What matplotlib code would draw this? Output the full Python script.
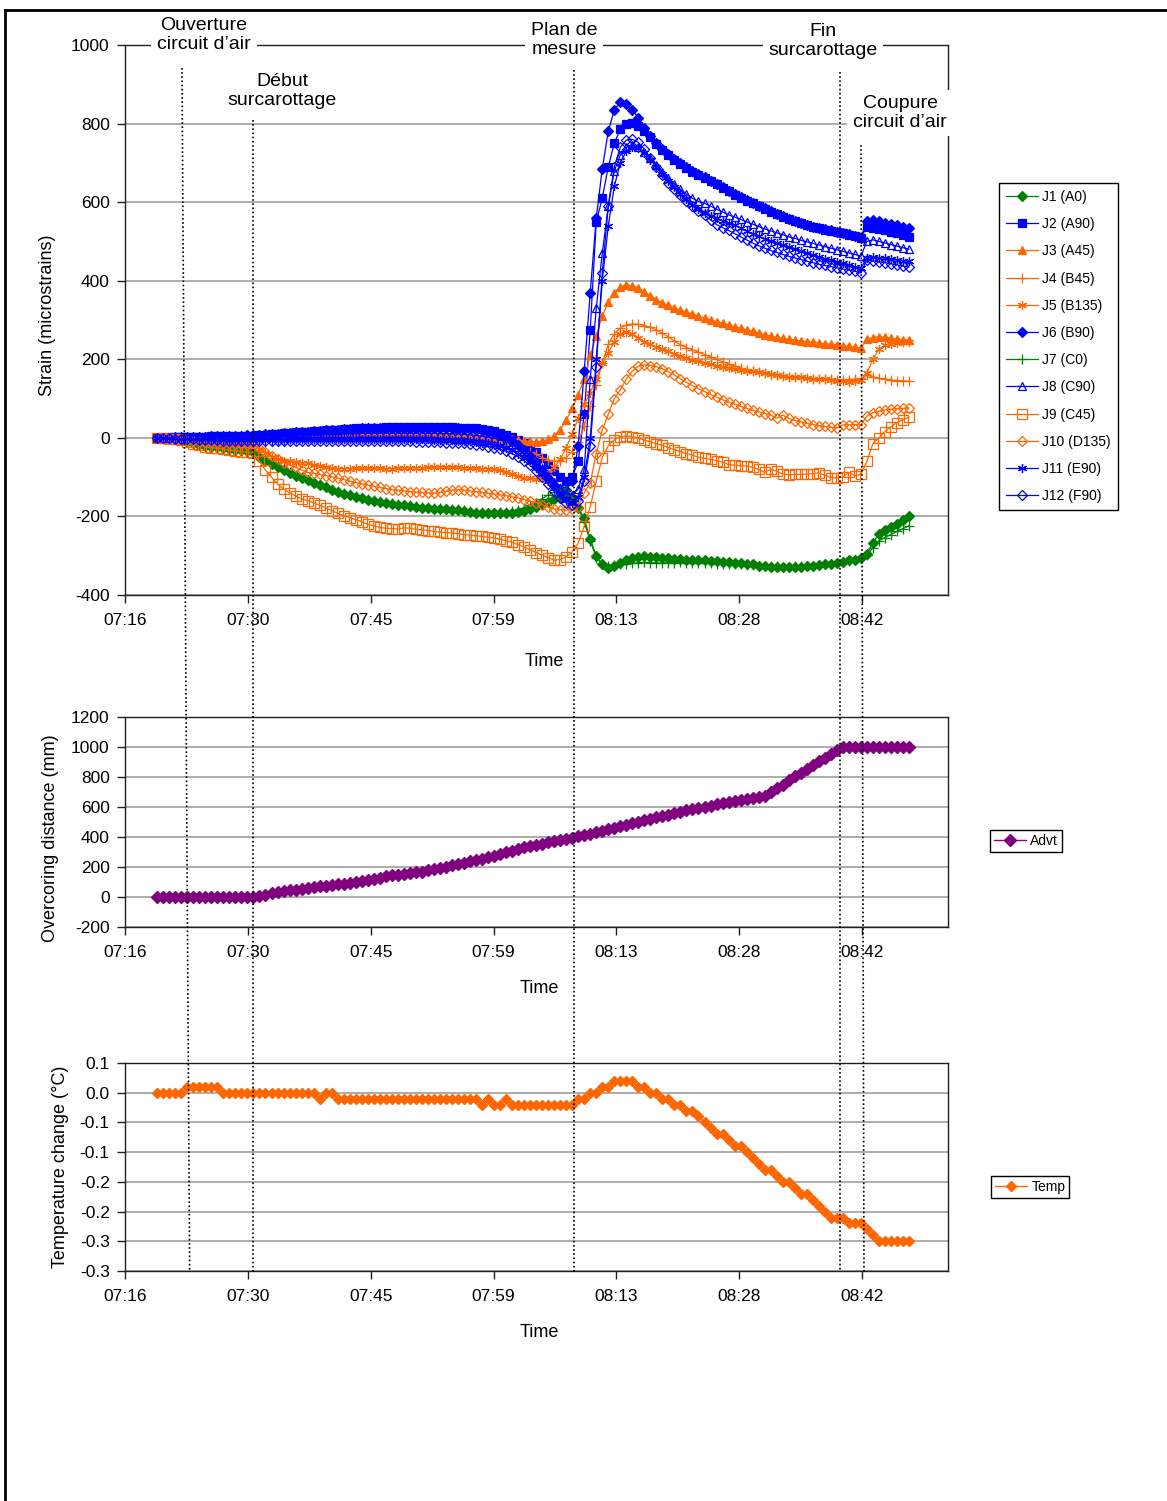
import numpy as np
import matplotlib
matplotlib.use("Agg")
import matplotlib.pyplot as plt
from matplotlib.lines import Line2D

plt.rcParams['font.family'] = ['Liberation Sans', 'DejaVu Sans']
plt.rcParams['axes.unicode_minus'] = False

W, H, DPI = 1167, 1501, 100

# ---------------- data ----------------
# sampling clock, minutes after midnight
t_start = 440.1
t_step = 0.705

J1 = [0, 0, -2, -3, -5,
      -10, -14, -17, -20, -22, -24, -26, -28, -30, -32, -34,
      -36,
      -48, -58, -66, -74, -82, -90, -96, -102, -108,
      -114, -120, -126, -132, -138, -142, -146, -150, -154, -157,
      -160, -163, -166, -168, -170, -172, -174, -176, -178, -179,
      -180, -181, -182, -183, -184, -186, -188, -190, -191, -192,
      -192, -192, -192, -191, -189, -186, -181, -176, -168, -162,
      -156, -150, -149, -158, -178,
      -205, -258, -300, -322, -330, -326, -318, -312, -306, -302,
      -300, -302, -304, -305, -306, -308, -309, -310, -311, -311,
      -312, -313, -314, -315, -316, -318, -319, -320, -322, -325,
      -327, -328, -328, -329, -329, -328, -328, -327, -326, -324,
      -322, -320, -318, -316, -312, -310, -306,
      -295, -268, -244, -235, -228, -220, -210, -200]
J7 = [0, 0, -1, -3, -5,
      -9, -13, -16, -19, -21, -23, -25, -27, -29, -31, -33,
      -35,
      -46, -56, -64, -72, -80, -87, -94, -100, -106,
      -112, -118, -124, -130, -135, -140, -144, -148, -152, -155,
      -158, -161, -164, -166, -168, -170, -172, -174, -176, -177,
      -178, -179, -180, -181, -182, -184, -186, -188, -189, -190,
      -190, -189, -188, -186, -183, -178, -172, -165, -155, -145,
      -138, -128, -132, -148, -178,
      -215, -262, -305, -320, -326, -323, -321, -320, -319, -318,
      -317, -318, -318, -319, -318, -318, -317, -318, -318, -318,
      -319, -319, -320, -320, -321, -322, -322, -323, -324, -325,
      -326, -327, -327, -328, -328, -327, -327, -326, -325, -324,
      -322, -320, -318, -316, -314, -311, -307,
      -298, -280, -262, -254, -246, -238, -231, -224]
J3 = [0, 0, 1, 2, 2,
      3, 3, 4, 4, 5, 5, 5, 6, 6, 6, 6,
      6,
      7, 8, 8, 9, 9, 10, 10, 10, 10,
      10, 10, 11, 11, 11, 11, 12, 12, 12, 12,
      12, 12, 12, 12, 12, 12, 11, 11, 11, 10,
      10, 10, 9, 9, 8, 8, 7, 6, 5, 4,
      3, 1, -1, -3, -5, -7, -9, -10, -8, -4,
      5, 20, 45, 75, 110,
      150, 210, 260, 310, 345, 370, 385, 389, 387, 382,
      372, 362, 352, 344, 337, 331, 325, 320, 315, 310,
      305, 300, 296, 292, 288, 283, 279, 275, 271, 267,
      263, 259, 256, 253, 251, 249, 247, 245, 244, 242,
      240, 238, 237, 235, 233, 231, 229,
      252, 255, 258, 256, 254, 252, 250, 249]
J4 = [0, 0, 0, -1, -1,
      -2, -3, -3, -4, -4, -5, -5, -6, -6, -6, -7,
      -7,
      -8, -8, -8, -8, -7, -7, -6, -6, -5,
      -5, -4, -4, -3, -3, -2, -2, -2, -2, -2,
      -2, -2, -2, -3, -3, -3, -3, -4, -4, -4,
      -4, -5, -5, -5, -6, -6, -7, -8, -9, -10,
      -12, -14, -17, -20, -25, -30, -36, -42, -50, -56,
      -60, -58, -50, -35, -10,
      30, 80, 135, 190, 238, 265, 280, 287, 290, 289,
      286, 281, 275, 266, 257, 246, 237, 230, 224, 218,
      212, 206, 200, 194, 188, 183, 178, 174, 170, 167,
      164, 161, 159, 157, 155, 154, 153, 152, 151, 150,
      149, 149, 148, 148, 148, 149, 150,
      160, 155, 152, 150, 148, 146, 145, 144]
J5 = [0, 0, -1, -2, -3,
      -5, -6, -8, -9, -10, -11, -12, -13, -14, -15, -16,
      -18,
      -28, -38, -48, -55, -58, -60, -62, -63, -64,
      -68, -72, -75, -77, -78, -78, -78, -77, -77, -77,
      -77, -77, -78, -78, -77, -77, -76, -76, -76, -75,
      -75, -74, -74, -75, -75, -76, -77, -77, -78, -78,
      -80, -83, -87, -92, -97, -101, -103, -104, -102, -90,
      -75, -55, -25, 10, 50,
      85, 115, 150, 190, 216, 245, 265, 270, 265, 255,
      245, 238, 232, 226, 220, 214, 208, 203, 199, 195,
      191, 187, 184, 181, 178, 175, 173, 171, 169, 167,
      165, 163, 160, 158, 156, 155, 154, 152, 151, 150,
      149, 148, 146, 145, 143, 145, 147,
      165, 200, 226, 236, 240, 242, 244, 245]
J9 = [0, 0, -2, -4, -6,
      -11, -15, -19, -22, -25, -27, -29, -31, -33, -35, -37,
      -39,
      -60, -82, -100, -118, -130, -140, -148, -155, -160,
      -165, -172, -178, -185, -192, -198, -203, -208, -213, -220,
      -224, -228, -230, -231, -232, -229, -230, -233, -234, -236,
      -238, -240, -241, -242, -244, -246, -247, -249, -251, -253,
      -255, -258, -262, -266, -272, -278, -285, -292, -298, -305,
      -311, -310, -303, -290, -268,
      -225, -175, -110, -50, -20, -5, 3, 5, 3, 0,
      -6, -10, -15, -19, -25, -30, -35, -40, -44, -49,
      -52, -55, -58, -62, -68, -70, -71, -72, -75, -80,
      -88, -80, -85, -92, -94, -93, -93, -92, -91, -89,
      -95, -101, -102, -100, -88, -96, -93,
      -60, -15, 0, 16, 28, 39, 46, 53]
J10 = [0, 0, -1, -2, -4,
       -6, -8, -9, -10, -11, -12, -13, -14, -15, -16, -17,
       -18,
       -25, -35, -45, -55, -63, -69, -75, -82, -88,
       -90, -93, -96, -99, -102, -106, -110, -114, -117, -120,
       -123, -126, -129, -132, -133, -135, -137, -138, -139, -140,
       -141, -139, -136, -133, -132, -133, -135, -137, -139, -141,
       -143, -145, -147, -150, -153, -157, -161, -165, -170, -176,
       -181, -183, -184, -182, -175,
       -140, -115, -40, 20, 60, 100, 122, 150, 170, 182,
       186, 184, 181, 176, 168, 160, 150, 141, 133, 125,
       118, 111, 104, 97, 91, 86, 80, 75, 70, 66,
       62, 58, 50, 58, 50, 44, 41, 37, 34, 31,
       29, 27, 25, 33, 33, 34, 33,
       55, 64, 68, 71, 73, 74, 75, 76]
J2 = [0, 0, 1, 1, 2,
      2, 3, 3, 3, 4, 4, 4, 5, 5, 5, 6,
      6,
      7, 8, 10, 11, 12, 13, 14, 15, 16,
      17, 18, 19, 20, 21, 22, 23, 24, 25, 25,
      26, 26, 27, 27, 27, 27, 27, 27, 27, 27,
      27, 27, 27, 27, 26, 26, 25, 24, 22, 20,
      17, 13, 8, 2, -5, -14, -24, -36, -50, -66,
      -85, -100, -110, -100, -60,
      60, 275, 550, 610, 690, 750, 785, 800, 801, 795,
      780, 765, 748, 733, 720, 708, 697, 687, 678, 670,
      662, 655, 645, 637, 628, 619, 611, 604, 597, 590,
      583, 576, 569, 563, 557, 551, 546, 541, 537, 533,
      530, 527, 524, 521, 517, 513, 509,
      538, 535, 532, 529, 525, 521, 516, 512]
J6 = [0, 0, 0, 1, 1,
      2, 2, 3, 3, 4, 4, 5, 5, 6, 6, 7,
      7,
      8, 9, 10, 11, 12, 13, 14, 15, 16,
      17, 18, 19, 20, 21, 22, 23, 23, 24, 24,
      25, 25, 25, 26, 26, 26, 26, 26, 26, 26,
      26, 25, 25, 25, 24, 23, 22, 21, 19, 16,
      12, 7, 0, -8, -18, -30, -45, -62, -82, -102,
      -120, -130, -132, -110, -20,
      170, 370, 560, 685, 780, 835, 854, 850, 835, 815,
      790, 768, 750, 735, 722, 710, 699, 689, 680, 671,
      663, 655, 646, 638, 629, 620, 612, 605, 598, 591,
      584, 577, 570, 564, 558, 552, 547, 542, 538, 534,
      531, 528, 525, 522, 518, 514, 510,
      553, 555, 551, 548, 544, 541, 537, 534]
J8 = [0, 0, 0, 0, 1,
      1, 1, 2, 2, 2, 3, 3, 3, 4, 4, 4,
      4,
      5, 5, 6, 6, 7, 7, 8, 8, 9,
      9, 10, 10, 10, 11, 11, 11, 12, 12, 12,
      12, 12, 12, 12, 12, 12, 12, 12, 12, 12,
      12, 11, 11, 10, 10, 9, 8, 6, 4, 2,
      -1, -5, -10, -16, -24, -34, -46, -60, -76, -94,
      -112, -128, -140, -145, -130,
      -80, 150, 330, 470, 590, 680, 720, 740, 745, 740,
      728, 712, 695, 678, 662, 647, 633, 620, 610, 602,
      597, 590, 582, 575, 568, 562, 556, 550, 544, 538,
      532, 527, 522, 517, 512, 508, 503, 499, 495, 491,
      487, 483, 479, 475, 471, 467, 462,
      500, 504, 500, 496, 492, 488, 484, 480]
J11 = [0, 0, -1, -1, -2,
       -2, -3, -3, -4, -4, -5, -5, -5, -6, -6, -6,
       -6,
       -6, -6, -5, -5, -5, -4, -4, -4, -3,
       -3, -3, -2, -2, -2, -2, -2, -2, -2, -2,
       -2, -2, -3, -3, -3, -3, -4, -4, -4, -4,
       -5, -5, -6, -6, -7, -8, -9, -10, -12, -14,
       -17, -21, -26, -32, -40, -50, -62, -76, -92, -110,
       -128, -145, -158, -165, -150,
       -100, 0, 200, 400, 540, 640, 700, 730, 741, 738,
       725, 708, 690, 672, 655, 638, 622, 607, 594, 583,
       572, 565, 559, 553, 547, 541, 534, 527, 520, 513,
       506, 500, 495, 490, 485, 480, 475, 470, 465, 460,
       456, 452, 448, 444, 440, 436, 432,
       458, 461, 459, 457, 455, 453, 451, 449]
J12 = [0, 0, -1, -2, -3,
       -4, -4, -5, -5, -6, -6, -7, -7, -8, -8, -9,
       -9,
       -9, -9, -9, -9, -9, -8, -8, -8, -8,
       -8, -8, -8, -8, -8, -8, -8, -8, -8, -8,
       -8, -8, -8, -9, -9, -9, -9, -10, -10, -10,
       -11, -11, -12, -12, -13, -14, -15, -17, -19, -22,
       -25, -29, -34, -40, -48, -58, -70, -84, -100, -118,
       -136, -152, -165, -172, -160,
       -110, -20, 180, 420, 590, 690, 740, 758, 760, 752,
       735, 712, 690, 668, 650, 634, 618, 603, 590, 578,
       568, 555, 543, 535, 528, 520, 512, 504, 496, 489,
       483, 477, 472, 467, 462, 458, 454, 450, 446, 442,
       439, 436, 433, 430, 427, 424, 420,
       453, 450, 448, 446, 443, 440, 437, 435]

Advt = ([0] * 17 +
        [8, 16, 24, 32, 40, 45, 50, 55, 60,
         66, 71, 76, 81, 86, 90, 95, 100, 107, 114,
         122, 130, 138, 145, 150, 155, 160, 165, 170, 177,
         185, 193, 202, 211, 220, 229, 238, 247, 256, 265,
         276, 287, 298, 309, 320, 331, 340, 348, 356, 364,
         372, 380, 388, 396, 404, 413, 422, 432, 442, 452,
         462, 472, 482, 492, 502, 512, 522, 532, 541, 550,
         559, 568, 577, 586, 594, 602, 610, 617, 624, 631,
         638, 645, 652, 660, 668, 676,
         700, 725, 750, 778, 805, 830, 855, 880, 905, 930, 955, 978] +
        [1000] * 12)

Temp = ([0.0] * 5 + [0.01] * 6 + [0.0] * 16 + [-0.01] + [0.0] * 2 +
        [-0.01] * 24 + [-0.02, -0.01, -0.02, -0.02, -0.01] + [-0.02] * 11 +
        [-0.01, -0.01, 0.0, 0.0, 0.01, 0.01, 0.02, 0.02, 0.02, 0.02,
         0.01, 0.01, 0.0, 0.0, -0.01, -0.01, -0.02, -0.02, -0.03, -0.03,
         -0.04, -0.05, -0.06, -0.07, -0.07, -0.08, -0.09, -0.09, -0.10,
         -0.11, -0.12, -0.13, -0.13, -0.14, -0.15, -0.15, -0.16, -0.17,
         -0.17, -0.18, -0.19, -0.20, -0.21, -0.21, -0.21, -0.22, -0.22,
         -0.22, -0.23, -0.24] + [-0.25] * 6)

strain_series = [("J1 (A0)", J1), ("J2 (A90)", J2), ("J3 (A45)", J3),
                 ("J4 (B45)", J4), ("J5 (B135)", J5), ("J6 (B90)", J6),
                 ("J7 (C0)", J7), ("J8 (C90)", J8), ("J9 (C45)", J9),
                 ("J10 (D135)", J10), ("J11 (E90)", J11), ("J12 (F90)", J12)]

# axis: 0.303 day .. 0.37 day, major unit 0.01 day (in minutes)
x_min, x_max, x_major = 436.32, 532.8, 14.4
x_ticklabels = ["07:16", "07:30", "07:45", "07:59", "08:13", "08:28", "08:42"]
strain_ticks = [-400, -200, 0, 200, 400, 600, 800, 1000]
advt_ticks = [-200, 0, 200, 400, 600, 800, 1000, 1200]
temp_ticks = [-0.30, -0.25, -0.20, -0.15, -0.10, -0.05, 0.0, 0.05]
temp_ticklabels = ["-0.3", "-0.3", "-0.2", "-0.2", "-0.1", "-0.1", "0.0", "0.1"]

# events: (label, time at top, time at bottom, label centre px, line top px)
events = [("Ouverture\ncircuit d\u2019air", 443.0, 443.9, (204, 35), 68),
          ("D\u00e9but\nsurcarottage", 451.3, 451.3, (282, 91), 120),
          ("Plan de\nmesure", 489.0, 489.0, (564, 40), 70),
          ("Fin\nsurcarottage", 520.1, 520.1, (823, 41), 72),
          ("Coupure\ncircuit d\u2019air", 522.6, 522.95, (900, 113), 145)]

for name, s in strain_series + [("Advt", Advt), ("Temp", Temp)]:
    if len(s) != len(J1):
        raise ValueError(f"{name} has {len(s)} values, expected {len(J1)}")

t = t_start + t_step * np.arange(len(J1))

# ---------------- styles ----------------
GREEN, BLUE, ORANGE, PURPLE = "#008000", "#0000FF", "#FF6600", "#800080"
AST = (6, 2, 0)
styles = {
    "J1 (A0)": dict(color=GREEN, marker="D", ms=5, mfc=GREEN),
    "J2 (A90)": dict(color=BLUE, marker="s", ms=5.5, mfc=BLUE),
    "J3 (A45)": dict(color=ORANGE, marker="^", ms=6, mfc=ORANGE),
    "J4 (B45)": dict(color=ORANGE, marker="+", ms=7, mfc=ORANGE),
    "J5 (B135)": dict(color=ORANGE, marker=AST, ms=6.5, mfc=ORANGE),
    "J6 (B90)": dict(color=BLUE, marker="D", ms=5, mfc=BLUE),
    "J7 (C0)": dict(color=GREEN, marker="+", ms=7, mfc=GREEN),
    "J8 (C90)": dict(color=BLUE, marker="^", ms=6, mfc="none"),
    "J9 (C45)": dict(color=ORANGE, marker="s", ms=6.5, mfc="none"),
    "J10 (D135)": dict(color=ORANGE, marker="D", ms=5, mfc="none"),
    "J11 (E90)": dict(color=BLUE, marker=AST, ms=6.5, mfc=BLUE),
    "J12 (F90)": dict(color=BLUE, marker="D", ms=5, mfc="none"),
}

fig = plt.figure(figsize=(W / DPI, H / DPI), dpi=DPI)
fig.patch.set_facecolor("white")


def fx(px):
    return px / W


def fy(py):
    return 1 - py / H


AX_L, AX_R = 125, 948
ax1 = fig.add_axes([fx(AX_L), fy(595), (AX_R - AX_L) / W, (595 - 45) / H])
ax2 = fig.add_axes([fx(AX_L), fy(927), (AX_R - AX_L) / W, (927 - 717) / H])
ax3 = fig.add_axes([fx(AX_L), fy(1271), (AX_R - AX_L) / W, (1271 - 1063) / H])

TICK_FS = 12.5
LABEL_FS = 13
LEG_FS = 10

xt = [x_min + x_major * k for k in range(len(x_ticklabels))]
for ax in (ax1, ax2, ax3):
    ax.set_xlim(x_min, x_max)
    ax.set_xticks(xt)
    ax.set_xticklabels(x_ticklabels)
    ax.grid(axis="y", color="#a6a6a6", lw=1.3)
    ax.set_axisbelow(True)
    for sp in ax.spines.values():
        sp.set_color("#202020")
        sp.set_linewidth(1.0)
    ax.tick_params(axis="x", direction="out", length=6, width=1, pad=7,
                   labelsize=TICK_FS, color="#202020")
    ax.tick_params(axis="y", direction="out", length=6, width=1, pad=5,
                   labelsize=TICK_FS, color="#202020")

legend_kw = dict(fontsize=LEG_FS, frameon=True, fancybox=False,
                 edgecolor="black", framealpha=1, handlelength=2.3,
                 handletextpad=0.3, borderaxespad=0,
                 bbox_transform=fig.transFigure, loc="upper left")

# top: strains
for name, vals in strain_series:
    st = styles[name]
    ax1.plot(t, vals, color=st["color"], lw=0.9, marker=st["marker"],
             ms=st["ms"], mfc=st["mfc"], mec=st["color"], mew=0.9, label=name)
ax1.set_ylim(strain_ticks[0], strain_ticks[-1])
ax1.set_yticks(strain_ticks)
ax1.set_ylabel("Strain (microstrains)", fontsize=LABEL_FS)
ax1.yaxis.set_label_coords(-0.084, 0.509)
ax1.set_xlabel("Time", fontsize=LABEL_FS)
ax1.xaxis.set_label_coords(0.510, -0.105)
leg1 = ax1.legend(bbox_to_anchor=(fx(999), fy(183)), labelspacing=0.95,
                  borderpad=0.5, **legend_kw)
leg1.get_frame().set_linewidth(1.0)

# middle: overcoring distance
ax2.plot(t, Advt, color=PURPLE, lw=1.0, marker="D", ms=6, mfc=PURPLE,
         mec=PURPLE, label="Advt")
ax2.set_ylim(advt_ticks[0], advt_ticks[-1])
ax2.set_yticks(advt_ticks)
ax2.set_ylabel("Overcoring distance (mm)", fontsize=LABEL_FS)
ax2.yaxis.set_label_coords(-0.080, 0.424)
ax2.set_xlabel("Time", fontsize=LABEL_FS)
ax2.xaxis.set_label_coords(0.504, -0.252)
leg2 = ax2.legend(bbox_to_anchor=(fx(990), fy(830)), borderpad=0.3,
                  **legend_kw)
leg2.get_frame().set_linewidth(1.0)

# bottom: temperature
ax3.plot(t, Temp, color=ORANGE, lw=1.0, marker="D", ms=5.5, mfc=ORANGE,
         mec=ORANGE, label="Temp")
ax3.set_ylim(temp_ticks[0], temp_ticks[-1])
ax3.set_yticks(temp_ticks)
ax3.set_yticklabels(temp_ticklabels)
ax3.set_ylabel("Temperature change (\u00b0C)", fontsize=LABEL_FS)
ax3.yaxis.set_label_coords(-0.068, 0.5)
ax3.set_xlabel("Time", fontsize=LABEL_FS)
ax3.xaxis.set_label_coords(0.504, -0.255)
leg3 = ax3.legend(bbox_to_anchor=(fx(991), fy(1176)), borderpad=0.3,
                  **legend_kw)
leg3.get_frame().set_linewidth(1.0)

# event lines (dotted, across the three charts) and their labels
ax_w = (AX_R - AX_L) / W


def time_to_fig(tt):
    return fx(AX_L) + (tt - x_min) / (x_max - x_min) * ax_w


for label, t_top, t_bot, (lx, ly), ytop in events:
    fig.add_artist(Line2D([time_to_fig(t_top), time_to_fig(t_bot)],
                          [fy(ytop), fy(1272)], transform=fig.transFigure,
                          color="black", lw=1.2, ls=(0, (1, 1.5)), zorder=5))
    fig.text(fx(lx), fy(ly), label, ha="center", va="center", fontsize=14,
             linespacing=1.13, zorder=6,
             bbox=dict(facecolor="white", edgecolor="none", pad=4))

# outer frame of the picture (above the label boxes)
fig.add_artist(Line2D([fx(5), fx(5)], [fy(10), 0], transform=fig.transFigure,
                      color="black", lw=2, zorder=8))
fig.add_artist(Line2D([fx(5), 1], [fy(10), fy(10)], transform=fig.transFigure,
                      color="black", lw=2, zorder=8))

fig.savefig("out.png", dpi=DPI)
